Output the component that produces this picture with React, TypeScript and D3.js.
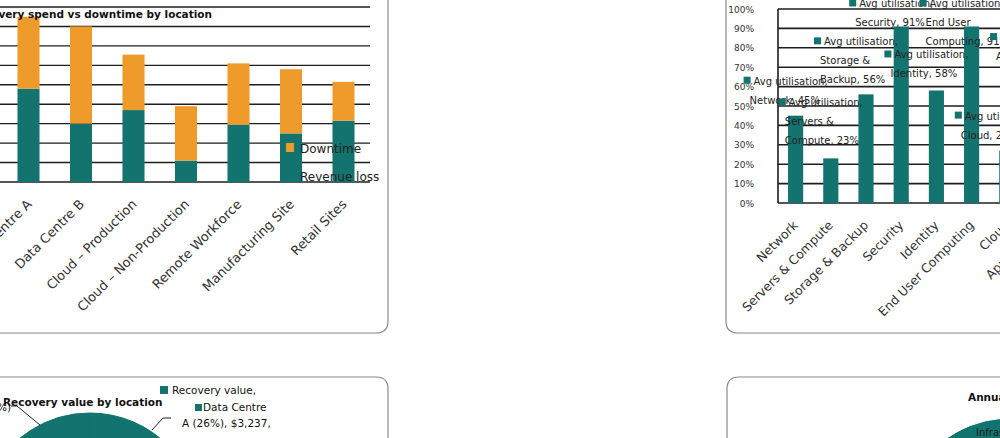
import React, { useEffect, useRef } from 'react';
import * as d3 from 'd3';

const TEAL = '#13736f';
const ORANGE = '#ef9b2c';
const GRID = '#1e1e1e';
const FONT = '"DejaVu Sans", sans-serif';

// top-left: recovery spend vs downtime (stacked)
const locations = [
  'Data Centre A',
  'Data Centre B',
  'Cloud – Production',
  'Cloud – Non-Production',
  'Remote Workforce',
  'Manufacturing Site',
  'Retail Sites',
];
const revenueLoss = [4.8, 3.0, 3.7, 1.1, 2.95, 2.5, 3.15];
const downtime = [3.7, 5.0, 2.85, 2.8, 3.15, 3.3, 2.0];
const spendTicks = [0, 1, 2, 3, 4, 5, 6, 7, 8, 9];

// top-right: average utilisation by service
const services = [
  'Network',
  'Servers & Compute',
  'Storage & Backup',
  'Security',
  'Identity',
  'End User Computing',
  'Cloud',
  'Applications',
];
const utilisation = [45, 23, 56, 91, 58, 91, 27, 68];
const pctTicks = [0, 10, 20, 30, 40, 50, 60, 70, 80, 90, 100];

// bottom-left: recovery value by location
const recoveryValue = [3237, 2480, 1960, 720, 1410, 1690, 1150];

// bottom-right: annual cost
const costItems = ['Infrastructure', 'Licences', 'Staff', 'Support'];
const annualCost = [4200, 2100, 3300, 1400];

const App: React.FC = () => {
  const svgRef = useRef<SVGSVGElement>(null);

  useEffect(() => {
    if (!svgRef.current) return;
    const svg = d3.select(svgRef.current);
    svg.selectAll('*').remove();

    svg.append('rect').attr('width', 1000).attr('height', 438).attr('fill', '#fff');

    // panel frames (rounded corners)
    const frame = (d: string) =>
      svg.append('path').attr('d', d).attr('fill', 'none').attr('stroke', '#8a8a8a').attr('stroke-width', 1.2);
    frame('M -5 333 H 376 Q 388 333 388 321 V -5');
    frame('M 1005 333 H 738 Q 726 333 726 321 V -5');
    frame('M -5 377 H 376 Q 388 377 388 389 V 445');
    frame('M 1005 377 H 739 Q 727 377 727 389 V 445');

    // ---------- chart 1: stacked bars ----------
    const g1 = svg.append('g');
    const x1 = d3.scaleBand<string>().domain(locations).range([2.25, 369.75]).paddingInner(0.58).paddingOuter(0.29);
    const y1 = d3.scaleLinear().domain([0, 9]).range([182, 7]);

    g1.selectAll('line.grid')
      .data(spendTicks)
      .enter()
      .append('line')
      .attr('x1', -5)
      .attr('x2', 370)
      .attr('y1', d => y1(d))
      .attr('y2', d => y1(d))
      .attr('stroke', GRID)
      .attr('stroke-width', 1.4);

    const rows = locations.map((loc, i) => ({ loc, loss: revenueLoss[i], down: downtime[i] }));
    const stacked = d3.stack<any>().keys(['loss', 'down'])(rows);
    const colors = [TEAL, ORANGE];

    stacked.forEach((layer, li) => {
      g1.selectAll(`rect.s${li}`)
        .data(layer)
        .enter()
        .append('rect')
        .attr('x', d => x1(d.data.loc)!)
        .attr('y', d => y1(d[1]))
        .attr('width', x1.bandwidth())
        .attr('height', d => y1(d[0]) - y1(d[1]))
        .attr('fill', colors[li]);
    });

    g1.append('text')
      .attr('x', 212)
      .attr('y', 18)
      .attr('text-anchor', 'end')
      .attr('font-family', FONT)
      .attr('font-weight', 'bold')
      .attr('font-size', 10.5)
      .attr('fill', '#111')
      .text('Recovery spend vs downtime by location');

    // legend
    const legend = [
      { label: 'Downtime', color: ORANGE, y: 143 },
      { label: 'Revenue loss', color: TEAL, y: 171 },
    ];
    legend.forEach(l => {
      g1.append('rect').attr('x', 286).attr('y', l.y).attr('width', 8).attr('height', 9).attr('fill', l.color);
      g1.append('text')
        .attr('x', 300)
        .attr('y', l.y + 9.5)
        .attr('font-family', FONT)
        .attr('font-size', 12)
        .attr('fill', '#222')
        .text(l.label);
    });

    g1.selectAll('text.xl')
      .data(locations)
      .enter()
      .append('text')
      .attr('transform', d => `translate(${x1(d)! + x1.bandwidth() / 2 + 4},${205}) rotate(-45)`)
      .attr('text-anchor', 'end')
      .attr('font-family', FONT)
      .attr('font-size', 13)
      .attr('fill', '#333')
      .text(d => d);

    // ---------- chart 2: utilisation bars ----------
    const g2 = svg.append('g');
    const x2 = d3.scaleBand<string>().domain(services).range([778, 778 + 35.2 * services.length]).paddingInner(0.57).paddingOuter(0.285);
    const y2 = d3.scaleLinear().domain([0, 100]).range([203, 9]);

    g2.selectAll('line.grid')
      .data(pctTicks)
      .enter()
      .append('line')
      .attr('x1', 778)
      .attr('x2', 1005)
      .attr('y1', d => y2(d))
      .attr('y2', d => y2(d))
      .attr('stroke', GRID)
      .attr('stroke-width', 1.6);
    g2.append('line').attr('x1', 778).attr('x2', 778).attr('y1', y2(100)).attr('y2', y2(0)).attr('stroke', GRID).attr('stroke-width', 1.6);

    g2.selectAll('text.yl')
      .data(pctTicks)
      .enter()
      .append('text')
      .attr('x', 754)
      .attr('y', d => y2(d) + 3.5)
      .attr('text-anchor', 'end')
      .attr('font-family', FONT)
      .attr('font-size', 9)
      .attr('fill', '#333')
      .text(d => `${d}%`);

    g2.selectAll('rect.bar')
      .data(services)
      .enter()
      .append('rect')
      .attr('x', d => x2(d)!)
      .attr('y', (d, i) => y2(utilisation[i]))
      .attr('width', x2.bandwidth())
      .attr('height', (d, i) => y2(0) - y2(utilisation[i]))
      .attr('fill', TEAL);

    g2.selectAll('text.xl')
      .data(services)
      .enter()
      .append('text')
      .attr('transform', d => `translate(${x2(d)! + x2.bandwidth() / 2 + 3},${226}) rotate(-45)`)
      .attr('text-anchor', 'end')
      .attr('font-family', FONT)
      .attr('font-size', 12.5)
      .attr('fill', '#333')
      .text(d => d);

    // data-label callouts (overlapping, as in the source)
    const lift = [39, 60, 57, 27, 40, 27, 39, 38];
    services.forEach((s, i) => {
      const sx = x2(s)! + x2.bandwidth() / 2 - 52;
      const sy = y2(utilisation[i]) - lift[i];
      g2.append('rect').attr('x', sx).attr('y', sy).attr('width', 7).attr('height', 7).attr('fill', TEAL);
      const words = s.split(' ');
      const lines = ['Avg utilisation,'];
      if (s.length > 12) {
        const half = Math.ceil(words.length / 2);
        lines.push(words.slice(0, half).join(' '));
        lines.push(`${words.slice(half).join(' ')}, ${utilisation[i]}%`);
      } else {
        lines.push(`${s}, ${utilisation[i]}%`);
      }
      lines.forEach((ln, li) => {
        g2.append('text')
          .attr('x', sx + (li === 0 ? 10 : 6))
          .attr('y', sy + 8 + li * 19)
          .attr('font-family', FONT)
          .attr('font-size', 10)
          .attr('fill', '#222')
          .text(ln);
      });
    });

    // ---------- chart 3: pie, recovery value ----------
    const g3 = svg.append('g').attr('transform', 'translate(90,523)');
    const pie = d3.pie<number>().value(d => d).sort(null);
    const arc3 = d3.arc<d3.PieArcDatum<number>>().innerRadius(0).outerRadius(110);
    g3.selectAll('path')
      .data(pie(recoveryValue))
      .enter()
      .append('path')
      .attr('d', arc3)
      .attr('fill', TEAL)
      .attr('stroke', TEAL);

    const t3 = (x: number, y: number, s: string, bold = false, anchor = 'start') =>
      svg.append('text')
        .attr('x', x)
        .attr('y', y)
        .attr('text-anchor', anchor)
        .attr('font-family', FONT)
        .attr('font-size', bold ? 10.5 : 10.5)
        .attr('font-weight', bold ? 'bold' : 'normal')
        .attr('fill', '#111')
        .text(s);
    t3(3, 406, 'Recovery value by location', true);
    t3(11, 411, 'Retail Sites, (9%)', false, 'end');
    svg.append('polyline').attr('points', '11,406 17,406 40,425').attr('fill', 'none').attr('stroke', '#222').attr('stroke-width', 1);
    svg.append('polyline').attr('points', '152,430 163,418 171,418').attr('fill', 'none').attr('stroke', '#222').attr('stroke-width', 1);
    svg.append('rect').attr('x', 160).attr('y', 386).attr('width', 8).attr('height', 8).attr('fill', TEAL);
    t3(172, 394, 'Recovery value,');
    svg.append('rect').attr('x', 195).attr('y', 404).attr('width', 7).attr('height', 7).attr('fill', TEAL);
    t3(203, 411, 'Data Centre');
    t3(182, 427, `A (26%), $${d3.format(',')(recoveryValue[0])},`);

    // ---------- chart 4: pie, annual cost ----------
    const g4 = svg.append('g').attr('transform', 'translate(1010,527)');
    const arc4 = d3.arc<d3.PieArcDatum<number>>().innerRadius(0).outerRadius(109);
    g4.selectAll('path')
      .data(pie.startAngle(-Math.PI / 2).endAngle(Math.PI * 1.5)(annualCost))
      .enter()
      .append('path')
      .attr('d', arc4)
      .attr('fill', TEAL)
      .attr('stroke', '#fff')
      .attr('stroke-width', 1);
    svg.append('text')
      .attr('x', 968)
      .attr('y', 401)
      .attr('font-family', FONT)
      .attr('font-weight', 'bold')
      .attr('font-size', 10.5)
      .attr('fill', '#111')
      .text('Annual cost by category');
    svg.append('text')
      .attr('x', 976)
      .attr('y', 436)
      .attr('font-family', FONT)
      .attr('font-size', 10)
      .attr('fill', '#1a1a1a')
      .text(costItems[0]);
  }, []);

  return (
    <svg
      ref={svgRef}
      width={1000}
      height={438}
      style={{ position: 'absolute', left: 0, top: 0, display: 'block' }}
    />
  );
};

export default App;
